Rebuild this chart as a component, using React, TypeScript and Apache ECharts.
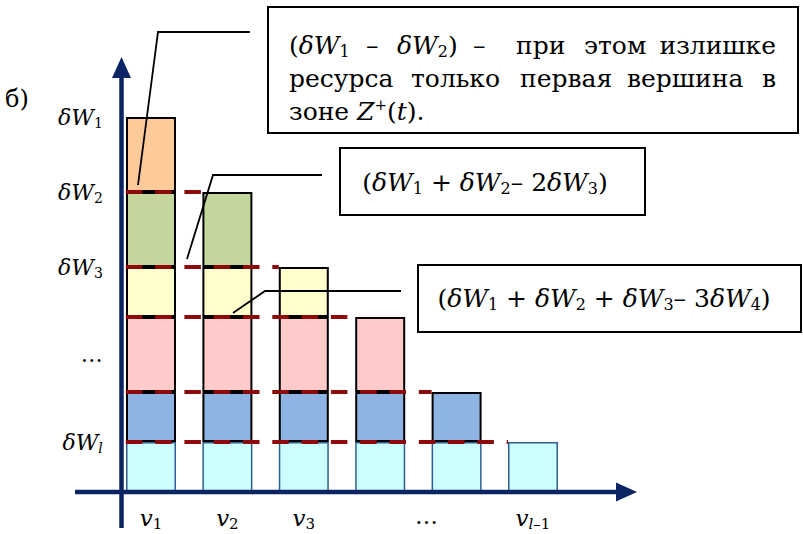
import React, { useEffect, useRef } from "react";
import * as echarts from "echarts";

// Resource surplus layers per vertex (stacked from the bottom up)
const categories = ["v1", "v2", "v3", "v4", "v5", "v6"];
const cyanSeg = [2, 2, 2, 2, 2, 2];
const blueSeg = [2, 2, 2, 2, 2, null];
const pinkSeg = [3, 3, 3, 3, null, null];
const yellowSeg = [2, 2, 2, null, null, null];
const greenSeg = [3, 3, null, null, null, null];
const orangeSeg = [3, null, null, null, null, null];

// Y tick positions and their labels
const yTickValues = [15, 12, 9, 5.5, 2];
const yTickLabels = ["{i|δW}{s|1}", "{i|δW}{s|2}", "{i|δW}{s|3}", "{n|…}", "{i|δW}{si|l}"];

// X labels under the vertices
const xTickLabels = ["{i|v}{s|1}", "{i|v}{s|2}", "{i|v}{s|3}", "", "{d|…}", "{i|v}{si|l}{s|–1}"];

const FONT = "DejaVu Serif";
const NAVY = "#0b2463";
const DASH_RED = "#8e0a0a";
const BAR_W = 50;

const richFor = (size: number) => ({
  n: { fontFamily: FONT, fontSize: size, color: "#000" },
  i: { fontFamily: FONT, fontSize: size, fontStyle: "italic", color: "#000" },
  s: { fontFamily: FONT, fontSize: Math.round(size * 0.65), padding: [Math.round(size * 0.5), 0, 0, 0], color: "#000" },
  si: { fontFamily: FONT, fontSize: Math.round(size * 0.65), fontStyle: "italic", padding: [Math.round(size * 0.5), 0, 0, 0], color: "#000" },
  sup: { fontFamily: FONT, fontSize: Math.round(size * 0.6), padding: [0, 0, Math.round(size * 0.5), 0], color: "#000" },
  d: { fontFamily: FONT, fontSize: size, color: "#000", padding: [0, 60, 0, 0] },
});

const BOX_FS = 25;
const boxRich = richFor(BOX_FS);

const word = (text: string, x: number, y: number, align = "left", rich: any = boxRich) => ({
  type: "text",
  x,
  y,
  z: 110,
  style: { text, rich, align, verticalAlign: "middle", font: `${BOX_FS}px ${FONT}`, fill: "#000" },
});

function barTops(): number[] {
  const segs = [cyanSeg, blueSeg, pinkSeg, yellowSeg, greenSeg, orangeSeg];
  return categories.map((_, i) => segs.reduce((acc, s) => acc + (s[i] ?? 0), 0));
}

export default function App() {
  const ref = useRef<HTMLDivElement>(null);

  useEffect(() => {
    if (!ref.current) return;
    const chart = echarts.init(ref.current, null, { renderer: "svg" });

    const tops = barTops();
    // each dashed level runs from the axis to the left edge of the bar it tops
    const levelLines = tops.slice(1).map((t, k) => [k + 1, t]);

    const barSeries = (name: string, data: (number | null)[], color: string, border: string, bw: number) => ({
      name,
      type: "bar",
      stack: "res",
      barWidth: BAR_W,
      data: data.map((v) => (v == null ? "-" : v)),
      itemStyle: { color, borderColor: border, borderWidth: bw },
      z: 2,
    });

    const option: any = {
      animation: false,
      backgroundColor: "#fff",
      textStyle: { fontFamily: FONT },
      grid: { left: 112.8, right: 231.8, top: 92, bottom: 42 },
      xAxis: {
        type: "category",
        data: categories,
        axisLine: { show: false },
        axisTick: { show: false },
        axisLabel: {
          interval: 0,
          margin: 12,
          fontFamily: FONT,
          formatter: (_v: string, idx: number) => xTickLabels[idx],
          rich: richFor(23),
        },
      },
      yAxis: {
        type: "value",
        min: 0,
        max: 16,
        interval: 0.5,
        splitLine: { show: false },
        axisLine: { show: false },
        axisTick: { show: false },
        axisLabel: {
          margin: 10,
          fontFamily: FONT,
          formatter: (v: number) => {
            const k = yTickValues.indexOf(v);
            return k >= 0 ? yTickLabels[k] : "";
          },
          rich: richFor(22),
        },
      },
      series: [
        barSeries("cyan", cyanSeg, "#ccffff", "#2f5f8f", 1.5),
        barSeries("blue", blueSeg, "#8eb4e3", "#000", 2),
        barSeries("pink", pinkSeg, "#ffcaca", "#000", 2),
        barSeries("yellow", yellowSeg, "#ffffcc", "#000", 2),
        barSeries("green", greenSeg, "#c3d69b", "#000", 2),
        barSeries("orange", orangeSeg, "#fdca9a", "#000", 2),
        {
          type: "custom",
          data: levelLines,
          encode: { x: 0, y: 1 },
          z: 5,
          renderItem: (params: any, api: any) => {
            const p = api.coord([api.value(0), api.value(1)]);
            const x0 = params.coordSys.x + 13;
            const x1 = p[0] - BAR_W / 2;
            return {
              type: "line",
              shape: { x1: x0, y1: p[1], x2: x1, y2: p[1] },
              style: { stroke: DASH_RED, lineWidth: 4, lineDash: [16.5, 12.8] },
            };
          },
        },
      ],
      graphic: [
        word("{n|б)}", 5, 99, "left", richFor(24)),
        // axes with arrow heads
        { type: "line", z: 100, shape: { x1: 121.5, y1: 528, x2: 121.5, y2: 75 }, style: { stroke: NAVY, lineWidth: 4.5 } },
        { type: "polygon", z: 100, shape: { points: [[121.5, 57], [112, 78], [131, 78]] }, style: { fill: NAVY } },
        { type: "line", z: 100, shape: { x1: 75, y1: 492, x2: 620, y2: 492 }, style: { stroke: NAVY, lineWidth: 4.5 } },
        { type: "polygon", z: 100, shape: { points: [[637, 492], [616, 482.5], [616, 501.5]] }, style: { fill: NAVY } },
        // callout boxes
        { type: "rect", z: 105, shape: { x: 268, y: 7, width: 530, height: 126 }, style: { fill: "#fff", stroke: "#000", lineWidth: 2 } },
        { type: "rect", z: 105, shape: { x: 340, y: 148, width: 305, height: 67 }, style: { fill: "#fff", stroke: "#000", lineWidth: 2 } },
        { type: "rect", z: 105, shape: { x: 418, y: 265, width: 383, height: 67 }, style: { fill: "#fff", stroke: "#000", lineWidth: 2 } },
        // leader lines
        { type: "polyline", z: 108, shape: { points: [[250, 32], [158, 32], [138, 185]] }, style: { stroke: "#000", lineWidth: 1.8, fill: "none" } },
        { type: "polyline", z: 108, shape: { points: [[322, 175], [213, 175], [187, 259]] }, style: { stroke: "#000", lineWidth: 1.8, fill: "none" } },
        { type: "polyline", z: 108, shape: { points: [[401, 291], [265, 291], [233, 313]] }, style: { stroke: "#000", lineWidth: 1.8, fill: "none" } },
        // first callout, justified lines
        word("{n|(}{i|δW}{s|1}", 289, 45),
        word("{n|–}", 366, 45),
        word("{i|δW}{s|2}{n|)}", 397, 45),
        word("{n|–}", 473, 45),
        word("{n|при}", 516, 45),
        word("{n|этом}", 584, 45),
        word("{n|излишке}", 776, 45, "right"),
        word("{n|ресурса}", 289, 78),
        word("{n|только}", 411, 78),
        word("{n|первая}", 520, 78),
        word("{n|вершина}", 627, 78),
        word("{n|в}", 776, 78, "right"),
        word("{n|зоне }{i|Z}{sup|+}{n|(}{i|t}{n|).}", 289, 111),
        // second and third callouts
        word("{n|(}{i|δW}{s|1}{n| + }{i|δW}{s|2}{n|– 2}{i|δW}{s|3}{n|)}", 485, 182, "center"),
        word("{n|(}{i|δW}{s|1}{n| + }{i|δW}{s|2}{n| + }{i|δW}{s|3}{n|– 3}{i|δW}{s|4}{n|)}", 604, 298, "center"),
      ],
    };

    chart.setOption(option);
    return () => chart.dispose();
  }, []);

  return (
    <div
      ref={ref}
      style={{ position: "absolute", left: 0, top: 0, width: 803, height: 534, background: "#fff" }}
    />
  );
}
